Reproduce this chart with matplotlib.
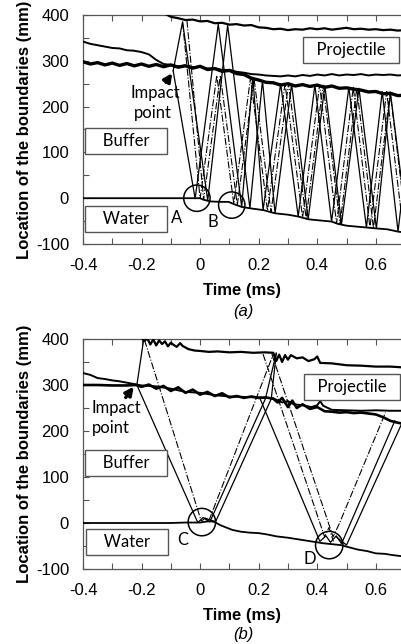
import matplotlib
matplotlib.use("Agg")
import matplotlib.pyplot as plt
from matplotlib.ticker import MultipleLocator

plt.rcParams["axes.unicode_minus"] = False

# ---------------- data: panel (a) ----------------
water_a_t = [-0.4, -0.2, 0.0, 0.01, 0.034, 0.068, 0.097, 0.12, 0.142, 0.17, 0.216, 0.239, 0.256,
             0.3, 0.335, 0.369, 0.4, 0.449, 0.47, 0.5, 0.568, 0.602, 0.64, 0.676, 0.7]
water_a_v = [0, 0, 0, -3, -7, -8, -8, -14, -19, -22, -26, -30, -33,
             -36, -40, -46, -48, -51, -56, -60, -64, -66, -68, -73, -75]

grid_a_t = [-0.4, -0.375, -0.35, -0.325, -0.3, -0.275, -0.25, -0.225, -0.2, -0.175, -0.15, -0.125,
            -0.1, -0.075, -0.05, -0.025, 0.0, 0.025, 0.05, 0.075, 0.1, 0.125, 0.15, 0.175, 0.2,
            0.225, 0.25, 0.275, 0.3, 0.325, 0.35, 0.375, 0.4, 0.425, 0.45, 0.475, 0.5, 0.525,
            0.55, 0.575, 0.6, 0.625, 0.65, 0.675, 0.7]
buffer_a_v = [298, 293, 296, 291, 295, 290, 294, 289, 293, 288, 292, 287, 291, 286, 289, 284, 288,
              281, 283, 277, 279, 272, 270, 262, 258, 253, 252, 247, 250, 245, 248, 244, 247, 242,
              245, 240, 241, 238, 236, 232, 233, 228, 229, 224, 225]
projbot_a_v = [342, 337, 334, 331, 328, 327, 323, 322, 319, 314, 302, 293, 291, 288, 290, 286, 287,
               283, 284, 280, 280, 276, 274, 271, 270, 268, 267, 266, 268, 266, 269, 267, 270, 268,
               271, 268, 270, 269, 271, 268, 270, 269, 270, 268, 269]
projtop_a_t = [-0.115, -0.1, -0.075, -0.05, -0.025, 0.0, 0.025, 0.05, 0.075, 0.1, 0.125, 0.15, 0.175,
               0.2, 0.225, 0.25, 0.275, 0.3, 0.325, 0.35, 0.375, 0.4, 0.425, 0.45, 0.475, 0.5, 0.525,
               0.55, 0.575, 0.6, 0.625, 0.65, 0.675, 0.7]
projtop_a_v = [401, 396, 393, 389, 390, 386, 387, 382, 383, 379, 380, 377, 378, 373, 372, 369, 370,
               367, 369, 368, 371, 369, 371, 368, 370, 372, 369, 370, 368, 369, 367, 368, 366, 367]

# wave paths (a): solid
solid_a1_t = [-0.092, -0.017, 0.062, 0.142, 0.18, 0.215, 0.275, 0.335, 0.392, 0.449, 0.508, 0.568, 0.622, 0.676, 0.73]
solid_a1_v = [278, -1, 380, -19, 264, -26, 250, -40, 247, -51, 242, -64, 233, -73, 225]
solid_a2_t = [-0.092, -0.06, 0.026, 0.094, 0.17, 0.213, 0.256, 0.3125, 0.369, 0.426, 0.483, 0.5425, 0.602, 0.65, 0.71]
solid_a2_v = [278, 385, -5, 378, -22, 257, -33, 249, -46, 246, -56, 240, -66, 230, -75]
# dash-dot
dash_a1_t = [-0.06, 0.0, 0.057, 0.115, 0.172, 0.23, 0.29, 0.35, 0.408, 0.466, 0.523, 0.58, 0.637, 0.695]
dash_a1_v = [385, -1, 268, -12, 262, -27, 250, -42, 247, -55, 242, -64, 233, -75]
dash_a2_t = [-0.045, 0.012, 0.069, 0.127, 0.184, 0.242, 0.302, 0.362, 0.42, 0.478, 0.535, 0.592, 0.649, 0.707]
dash_a2_v = [388, -3, 268, -15, 262, -30, 250, -44, 247, -56, 241, -65, 232, -76]

circles_a_t = [-0.011, 0.108]
circles_a_v = [0, -15]
circle_labels_a = ["A", "B"]
circle_label_a_t = [-0.079, 0.045]
circle_label_a_v = [-44, -51]

# ---------------- data: panel (b) ----------------
water_b_t = [-0.4, -0.3, -0.2, -0.1, -0.05, 0.0, 0.02, 0.035, 0.05, 0.07, 0.09, 0.11, 0.14, 0.17,
             0.2, 0.23, 0.26, 0.3, 0.34, 0.38, 0.42, 0.45, 0.48, 0.51, 0.54, 0.57, 0.6, 0.63, 0.66, 0.7]
water_b_v = [0, 0, 0, 0, 1, 1, 3, 4, 2, -5, -10, -15, -19, -21, -22, -25, -29, -32, -36, -40,
             -44, -46, -48, -53, -58, -61, -66, -67, -70, -73]

buffer_b_t = [-0.4, -0.35, -0.3, -0.25, -0.22, -0.2, -0.175, -0.15, -0.125, -0.1, -0.075, -0.05,
              -0.025, 0.0, 0.025, 0.05, 0.075, 0.1, 0.125, 0.15, 0.175, 0.2, 0.225, 0.25, 0.265,
              0.28, 0.3, 0.315, 0.33, 0.35, 0.375, 0.4, 0.425, 0.45, 0.475, 0.5, 0.525, 0.55,
              0.575, 0.6, 0.625, 0.65, 0.675, 0.7]
buffer_b_v = [300, 300, 299, 299, 300, 296, 301, 292, 298, 287, 295, 283, 290, 279, 285, 276, 282,
              273, 276, 272, 275, 272, 273, 270, 262, 272, 252, 266, 250, 258, 248, 252, 243, 242,
              240, 241, 239, 240, 238, 236, 230, 222, 218, 215]
projbot_b_t = [-0.4, -0.375, -0.35, -0.325, -0.3, -0.275, -0.25, -0.225, -0.2, -0.15, -0.1, -0.05,
               0.0, 0.05, 0.1, 0.15, 0.2, 0.25, 0.28, 0.3, 0.32, 0.35, 0.38, 0.4, 0.41, 0.42, 0.45,
               0.5, 0.55, 0.6, 0.65, 0.7]
projbot_b_v = [326, 322, 315, 313, 310, 308, 305, 302, 299, 297, 292, 285, 283, 278, 275, 274, 273,
               271, 262, 265, 258, 256, 252, 256, 265, 255, 246, 245, 244, 245, 244, 244]
projtop_b_t = [-0.2, -0.19, -0.18, -0.17, -0.16, -0.15, -0.14, -0.13, -0.12, -0.11, -0.1, -0.09,
               -0.08, -0.068, -0.06, -0.04, -0.02, 0.0, 0.03, 0.06, 0.1, 0.14, 0.18, 0.22, 0.25,
               0.26, 0.27, 0.28, 0.29, 0.3, 0.31, 0.33, 0.35, 0.37, 0.39, 0.4, 0.41, 0.45, 0.5,
               0.55, 0.6, 0.65, 0.7]
projtop_b_v = [402, 396, 401, 388, 399, 386, 397, 389, 395, 384, 392, 387, 383, 391, 385, 378, 375,
               374, 372, 373, 371, 372, 370, 371, 370, 352, 366, 350, 365, 355, 365, 358, 360, 352,
               356, 362, 348, 347, 343, 342, 340, 340, 338]

solid_b1_t = [-0.193, -0.216, -0.008, 0.01, 0.033, 0.223, 0.26]
solid_b1_v = [398, 300, 1, 12, 2, 270, 369]
solid_b2_t = [0.018, 0.053, 0.243, 0.26]
solid_b2_v = [10, 3, 270, 369]
solid_b3_t = [0.205, 0.409, 0.43, 0.445, 0.465, 0.483, 0.665]
solid_b3_v = [270, -40, -28, -42, -28, -45, 222]
solid_b4_t = [0.465, 0.50, 0.69]
solid_b4_v = [-30, -48, 218]
dash_b1_t = [-0.19, 0.004, 0.02, 0.03, 0.25]
dash_b1_v = [398, 4, 12, 5, 367]
dash_b2_t = [0.215, 0.425, 0.44, 0.455]
dash_b2_v = [367, -30, -10, -40]
dash_b3_t = [0.245, 0.454, 0.475, 0.633]
dash_b3_v = [367, -30, -2, 240]

circles_b_t = [0.006, 0.441]
circles_b_v = [2, -48]
circle_labels_b = ["C", "D"]
circle_label_b_t = [-0.059, 0.375]
circle_label_b_v = [-36, -79]

x_ticks = [-0.4, -0.2, 0.0, 0.2, 0.4, 0.6]
x_tick_labels = ["-0.4", "-0.2", "0", "0.2", "0.4", "0.6"]
y_ticks = [-100, 0, 100, 200, 300, 400]
y_tick_labels = ["-100", "0", "100", "200", "300", "400"]

# ---------------- drawing ----------------
fig = plt.figure(figsize=(4.02, 6.44), dpi=100)
tick_font = "Liberation Sans"
box_font = "Lato"

ax_a = fig.add_axes([83 / 402, 1 - 244 / 644, 1 - 83 / 402, 229 / 644])
ax_b = fig.add_axes([83 / 402, 1 - 569 / 644, 1 - 83 / 402, 230 / 644])


def style(ax):
    ax.set_xlim(-0.4, 0.6895)
    ax.set_ylim(-100, 400)
    ax.set_xticks(x_ticks)
    ax.set_xticklabels(x_tick_labels)
    ax.set_yticks(y_ticks)
    ax.set_yticklabels(y_tick_labels)
    ax.xaxis.set_minor_locator(MultipleLocator(0.1))
    ax.yaxis.set_minor_locator(MultipleLocator(50))
    ax.tick_params(which="both", direction="in", top=True, right=False, length=4,
                   width=0.8, color="#555555", labelsize=12)
    ax.tick_params(axis="x", pad=10)
    ax.tick_params(axis="y", pad=10)
    for lab in ax.get_xticklabels() + ax.get_yticklabels():
        lab.set_fontfamily(tick_font)
    for s in ["left", "bottom", "top"]:
        ax.spines[s].set_color("#555555")
        ax.spines[s].set_linewidth(0.9)
    ax.spines["right"].set_visible(False)
    ax.set_xlabel("Time (ms)", fontsize=12, fontweight="bold", family=tick_font, labelpad=7)
    ax.set_ylabel("Location of the boundaries (mm)", fontsize=12, fontweight="bold",
                  family=tick_font, labelpad=3)


def boxed(ax, x, y, s):
    ax.text(x, y, s, fontsize=12, family=box_font, ha="center", va="center",
            bbox=dict(boxstyle="square,pad=0.3", fc="white", ec="#555555", lw=1.0), zorder=6)


for ax in (ax_a, ax_b):
    style(ax)

# panel (a)
ax_a.plot(solid_a1_t, solid_a1_v, color="black", lw=0.9, zorder=2)
ax_a.plot(solid_a2_t, solid_a2_v, color="black", lw=0.9, zorder=2)
ax_a.plot(dash_a1_t, dash_a1_v, color="black", lw=0.8, ls="-.", zorder=2)
ax_a.plot(dash_a2_t, dash_a2_v, color="black", lw=0.8, ls="-.", zorder=2)
ax_a.plot(water_a_t, water_a_v, color="black", lw=1.3, zorder=3)
ax_a.plot(grid_a_t, buffer_a_v, color="black", lw=2.4, zorder=3)
ax_a.plot(grid_a_t, projbot_a_v, color="black", lw=1.4, zorder=3)
ax_a.plot(projtop_a_t, projtop_a_v, color="black", lw=1.6, zorder=3)
ax_a.scatter(circles_a_t, circles_a_v, s=360, facecolors="none", edgecolors="black",
             linewidths=1.1, zorder=4)
for s, x, y in zip(circle_labels_a, circle_label_a_t, circle_label_a_v):
    ax_a.text(x, y, s, fontsize=12, family=box_font, ha="center", va="center")
boxed(ax_a, 0.515, 324, "  Projectile  ")
boxed(ax_a, -0.254, 125, "   Buffer   ")
boxed(ax_a, -0.252, -45, "   Water   ")
ax_a.text(-0.153, 230, "Impact", fontsize=12, family=box_font, ha="center", va="center")
ax_a.text(-0.162, 186, "point", fontsize=12, family=box_font, ha="center", va="center")
ax_a.annotate("", xy=(-0.09, 278), xytext=(-0.122, 248),
              arrowprops=dict(arrowstyle="-|>", lw=2.4, color="black", mutation_scale=12))

# panel (b)
ax_b.plot(solid_b1_t, solid_b1_v, color="black", lw=0.9, zorder=2)
ax_b.plot(solid_b2_t, solid_b2_v, color="black", lw=0.9, zorder=2)
ax_b.plot(solid_b3_t, solid_b3_v, color="black", lw=0.9, zorder=2)
ax_b.plot(solid_b4_t, solid_b4_v, color="black", lw=0.9, zorder=2)
ax_b.plot(dash_b1_t, dash_b1_v, color="black", lw=0.8, ls="-.", zorder=2)
ax_b.plot(dash_b2_t, dash_b2_v, color="black", lw=0.8, ls="-.", zorder=2)
ax_b.plot(dash_b3_t, dash_b3_v, color="black", lw=0.8, ls="-.", zorder=2)
ax_b.plot(water_b_t, water_b_v, color="black", lw=1.3, zorder=3)
ax_b.plot(buffer_b_t, buffer_b_v, color="black", lw=1.9, zorder=3)
ax_b.plot(projbot_b_t, projbot_b_v, color="black", lw=1.4, zorder=3)
ax_b.plot(projtop_b_t, projtop_b_v, color="black", lw=1.6, zorder=3)
ax_b.scatter(circles_b_t, circles_b_v, s=390, facecolors="none", edgecolors="black",
             linewidths=1.1, zorder=4)
for s, x, y in zip(circle_labels_b, circle_label_b_t, circle_label_b_v):
    ax_b.text(x, y, s, fontsize=12, family=box_font, ha="center", va="center")
boxed(ax_b, 0.52, 296, "  Projectile  ")
boxed(ax_b, -0.252, 130, "   Buffer   ")
boxed(ax_b, -0.25, -42, "   Water   ")
ax_b.text(-0.372, 249, "Impact", fontsize=12, family=box_font, ha="left", va="center")
ax_b.text(-0.368, 206, "point", fontsize=12, family=box_font, ha="left", va="center")
ax_b.annotate("", xy=(-0.221, 301), xytext=(-0.26, 268),
              arrowprops=dict(arrowstyle="-|>", lw=2.4, color="black", mutation_scale=12))

fig.text(243 / 402, 1 - 311 / 644, "(a)", fontsize=12, style="italic", family=tick_font,
         ha="center", va="center")
fig.text(243 / 402, 1 - 635 / 644, "(b)", fontsize=12, style="italic", family=tick_font,
         ha="center", va="center")

fig.savefig("out.png", dpi=100)
